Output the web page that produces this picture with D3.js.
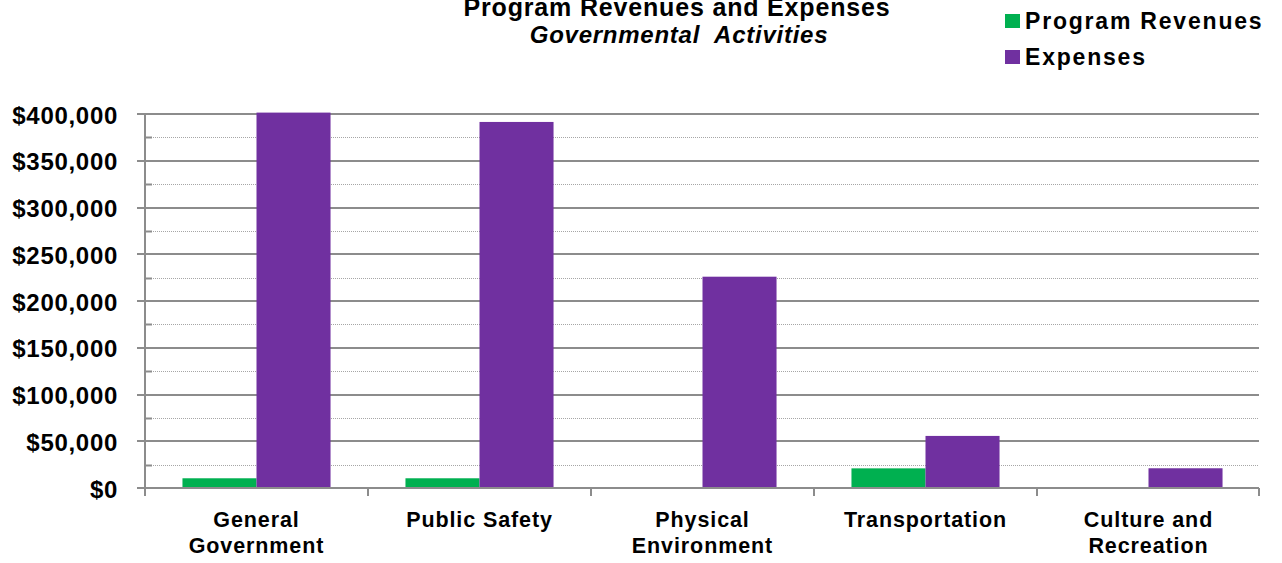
<!DOCTYPE html>
<html><head><meta charset="utf-8">
<script src="https://cdn.jsdelivr.net/npm/d3@7/dist/d3.min.js"></script>
<style>
html,body{margin:0;padding:0;background:#fff;}
svg{display:block;font-family:"Liberation Sans",Arial,sans-serif;}
</style></head>
<body><svg id="c" width="1282" height="563"></svg>
<script>
const categories = [["General","Government"],["Public Safety"],["Physical","Environment"],["Transportation"],["Culture and","Recreation"]];
const seriesNames = ["Program Revenues","Expenses"];
const seriesColors = ["#00B050","#7030A0"];
const programRevenues = [10400, 10400, 0, 21000, 0];
const expenses = [401500, 391500, 226000, 55700, 21100];
const yTicks = [0,50000,100000,150000,200000,250000,300000,350000,400000];
const yMinorTicks = [25000,75000,125000,175000,225000,275000,325000,375000];

(function(){
const svg = d3.select("#c");
const pl = 145, pr = 1260, pt = 114, pb = 488;
const y = d3.scaleLinear().domain([0,400000]).range([pb, pt]);
const catKeys = categories.map(c => c.join(" "));
const x0 = d3.scaleBand().domain(catKeys).range([pl, pr]).padding(0);
const bw = x0.bandwidth();
const x1 = d3.scaleBand().domain(seriesNames).range([bw*0.168, bw*0.832]).padding(0);
const fmt = v => "$" + d3.format(",")(v);

svg.append("g").selectAll("line").data(yMinorTicks).join("line")
  .attr("x1", pl).attr("x2", pr - 1)
  .attr("y1", d => Math.round(y(d)) + 0.5).attr("y2", d => Math.round(y(d)) + 0.5)
  .attr("stroke", "#a6a6a6").attr("stroke-width", 1).attr("stroke-dasharray", "1,1");
svg.append("g").selectAll("line").data(yMinorTicks).join("line")
  .attr("x1", pl).attr("x2", pl + 7)
  .attr("y1", d => Math.round(y(d)) + 0.5).attr("y2", d => Math.round(y(d)) + 0.5)
  .attr("stroke", "#8c8c8c").attr("stroke-width", 2);
svg.append("g").selectAll("line").data(yTicks.filter(d => d > 0)).join("line")
  .attr("x1", pl - 8).attr("x2", pr - 1)
  .attr("y1", d => Math.round(y(d))).attr("y2", d => Math.round(y(d)))
  .attr("stroke", "#8c8c8c").attr("stroke-width", 2);

const data = catKeys.map((k, i) => ({k, vals: [programRevenues[i], expenses[i]]}));
const g = svg.append("g").selectAll("g").data(data).join("g")
  .attr("transform", d => `translate(${x0(d.k)},0)`);
g.selectAll("rect").data(d => d.vals.map((v, j) => ({name: seriesNames[j], v, c: seriesColors[j]})))
  .join("rect")
  .attr("x", d => x1(d.name)).attr("width", x1.bandwidth())
  .attr("y", d => y(d.v)).attr("height", d => pb - y(d.v))
  .attr("fill", d => d.c);

svg.append("line").attr("x1", pl - 8).attr("x2", pr - 1)
  .attr("y1", pb).attr("y2", pb).attr("stroke", "#8c8c8c").attr("stroke-width", 2);
const bounds = catKeys.map(k => x0(k)).concat([pr - 1]);
svg.append("g").selectAll("line").data(bounds).join("line")
  .attr("x1", d => Math.round(d)).attr("x2", d => Math.round(d))
  .attr("y1", pb).attr("y2", pb + 8)
  .attr("stroke", "#8c8c8c").attr("stroke-width", 2);
svg.append("line").attr("x1", pl).attr("x2", pl)
  .attr("y1", pt - 1).attr("y2", pb + 8).attr("stroke", "#8c8c8c").attr("stroke-width", 2);

svg.append("g").selectAll("text").data(yTicks).join("text")
  .attr("x", 118).attr("y", d => y(d) + 9.5)
  .attr("text-anchor", "end")
  .attr("font-size", 24).attr("font-weight", "bold").attr("letter-spacing", 0.7)
  .text(fmt);

svg.append("g").selectAll("text").data(categories).join("text")
  .attr("x", (d, i) => x0(catKeys[i]) + bw / 2)
  .attr("y", 527)
  .attr("text-anchor", "middle")
  .attr("font-size", 21.5).attr("font-weight", "bold").attr("letter-spacing", 0.9)
  .selectAll("tspan").data(d => d).join("tspan")
  .attr("x", function(){ return this.parentNode.getAttribute("x"); })
  .attr("dy", (d, i) => i === 0 ? 0 : 26)
  .text(d => d);

const title = svg.append("g").attr("font-weight", "bold").attr("text-anchor", "middle");
title.append("text").attr("x", 677).attr("y", 15.5).attr("font-size", 25).attr("letter-spacing", 0.83)
  .text("Program Revenues and Expenses");
title.append("text").attr("x", 679).attr("y", 43).attr("font-size", 24).attr("letter-spacing", 0.75)
  .attr("font-style", "italic").style("white-space", "pre")
  .text("Governmental  Activities");

const leg = svg.append("g").selectAll("g").data(seriesNames).join("g")
  .attr("transform", (d, i) => `translate(1005,${14 + i * 36})`);
leg.append("rect").attr("width", 15).attr("height", 14).attr("fill", (d, i) => seriesColors[i]);
leg.append("text").attr("x", 20).attr("y", 14.5).attr("font-size", 23)
  .attr("font-weight", "bold").attr("letter-spacing", 1.8).text(d => d);
})();
</script></body></html>
